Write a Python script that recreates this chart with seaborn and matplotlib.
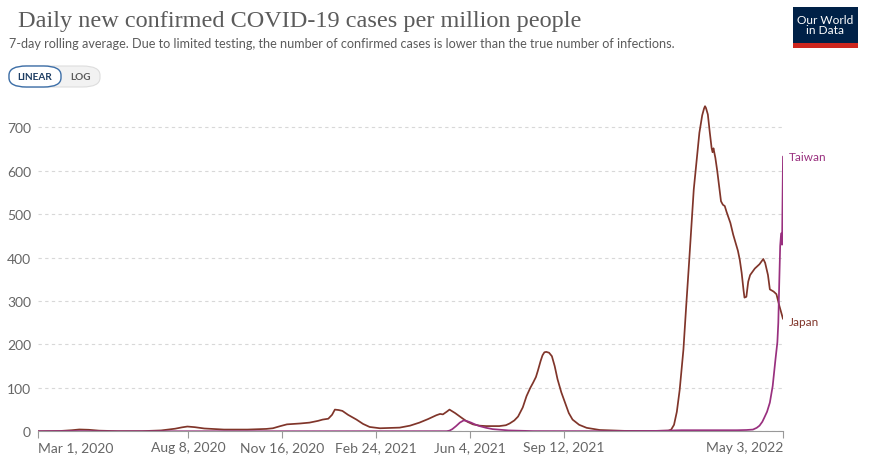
import pandas as pd
import matplotlib.pyplot as plt
from matplotlib.patches import FancyBboxPatch, Rectangle
import seaborn as sns

# values (7-day avg, cases per million)
japan_dates = [
    "2020-03-01", "2020-03-25", "2020-04-06", "2020-04-14", "2020-04-24", "2020-05-05",
    "2020-05-25", "2020-06-20", "2020-07-10", "2020-07-25", "2020-08-01", "2020-08-07",
    "2020-08-15", "2020-08-25", "2020-09-15", "2020-10-10", "2020-10-30", "2020-11-06",
    "2020-11-14", "2020-11-21", "2020-12-05", "2020-12-15", "2020-12-24", "2020-12-29",
    "2021-01-04", "2021-01-08", "2021-01-11", "2021-01-15", "2021-01-19", "2021-01-25",
    "2021-02-03", "2021-02-10", "2021-02-17", "2021-02-28", "2021-03-21", "2021-04-01",
    "2021-04-11", "2021-04-20", "2021-04-29", "2021-05-03", "2021-05-06", "2021-05-10",
    "2021-05-13", "2021-05-19", "2021-05-26", "2021-06-01", "2021-06-07", "2021-06-14",
    "2021-06-21", "2021-07-05", "2021-07-12", "2021-07-16", "2021-07-21", "2021-07-25",
    "2021-07-30", "2021-08-03", "2021-08-07", "2021-08-10", "2021-08-13", "2021-08-15",
    "2021-08-18", "2021-08-20", "2021-08-22", "2021-08-24", "2021-08-27", "2021-08-30",
    "2021-09-02", "2021-09-05", "2021-09-09", "2021-09-13", "2021-09-17", "2021-09-21",
    "2021-09-28", "2021-10-06", "2021-10-20", "2021-11-15", "2021-12-15", "2022-01-01",
    "2022-01-04", "2022-01-07", "2022-01-10", "2022-01-13", "2022-01-17", "2022-01-20",
    "2022-01-23", "2022-01-28", "2022-02-03", "2022-02-06", "2022-02-08", "2022-02-09",
    "2022-02-10", "2022-02-12", "2022-02-14", "2022-02-16", "2022-02-17", "2022-02-18",
    "2022-02-20", "2022-02-22", "2022-02-26", "2022-02-28", "2022-03-02", "2022-03-04",
    "2022-03-08", "2022-03-11", "2022-03-16", "2022-03-18", "2022-03-20", "2022-03-22",
    "2022-03-23", "2022-03-25", "2022-03-27", "2022-03-29", "2022-04-03", "2022-04-08",
    "2022-04-12", "2022-04-14", "2022-04-17", "2022-04-19", "2022-04-23", "2022-04-26",
    "2022-04-29", "2022-05-03",
]
japan_cases = [
    0.1, 0.8, 2.5, 4.2, 3.5, 1.5,
    0.3, 0.4, 2.0, 6.0, 9.0, 11.0,
    9.5, 6.5, 4.0, 4.0, 5.5, 7,
    12, 16, 18, 20, 24, 27,
    29, 38, 50, 49, 47, 38,
    27, 17, 10, 7, 8.5, 13,
    20, 28, 37, 40, 39, 45,
    50, 42, 31, 22, 16, 13,
    12, 12, 14, 18, 25, 34,
    55, 81, 100, 112, 125, 139,
    162, 175, 182, 183, 181, 173,
    150, 120, 90, 66, 42, 27,
    15, 8, 3, 1, 0.8, 1.5,
    4, 15, 45, 95, 188, 290,
    388, 557, 688, 728, 744, 749,
    745, 730, 690, 653, 643, 652,
    630, 600, 530, 522, 519, 505,
    480, 453, 416, 395, 365, 325,
    308, 310, 345, 360, 375, 385,
    397, 388, 360, 327, 322, 316,
    290, 259,
]

taiwan_dates = [
    "2020-03-01", "2020-04-10", "2020-05-10", "2020-12-31", "2021-05-10", "2021-05-13",
    "2021-05-16", "2021-05-20", "2021-05-24", "2021-05-28", "2021-05-31", "2021-06-05",
    "2021-06-09", "2021-06-14", "2021-06-21", "2021-06-28", "2021-07-15", "2021-08-10",
    "2021-11-01", "2021-12-20", "2022-01-15", "2022-02-15", "2022-03-15", "2022-03-25",
    "2022-04-01", "2022-04-05", "2022-04-08", "2022-04-11", "2022-04-13", "2022-04-16",
    "2022-04-19", "2022-04-22", "2022-04-25", "2022-04-27", "2022-04-28", "2022-04-29",
    "2022-04-30", "2022-05-01", "2022-05-02", "2022-05-03",
]
taiwan_cases = [
    0.2, 0.6, 0.1, 0.2, 0.3, 1.5,
    5, 12, 20, 25, 24, 20,
    16, 12, 8, 5, 2, 0.5,
    0.3, 1, 2.5, 2.5, 2.5, 3,
    4, 8, 13, 22, 31, 45,
    66, 104, 166, 205, 250, 342,
    427, 456, 430, 633,
]

tick_dates = ["2020-03-01", "2020-08-08", "2020-11-16", "2021-02-24",
              "2021-06-04", "2021-09-12", "2022-05-03"]
tick_labels = ["Mar 1, 2020", "Aug 8, 2020", "Nov 16, 2020", "Feb 24, 2021",
               "Jun 4, 2021", "Sep 12, 2021", "May 3, 2022"]
y_ticks = [0, 100, 200, 300, 400, 500, 600, 700]

colors = {"Japan": "#80352a", "Taiwan": "#99307f"}

df = pd.concat([
    pd.DataFrame({"date": pd.to_datetime(japan_dates), "cases": japan_cases, "country": "Japan"}),
    pd.DataFrame({"date": pd.to_datetime(taiwan_dates), "cases": taiwan_cases, "country": "Taiwan"}),
], ignore_index=True)

sns.set_theme(style="white")
plt.rcParams["font.family"] = ["Lato", "DejaVu Sans"]

fig = plt.figure(figsize=(8.7, 4.6), dpi=100)
ax = fig.add_axes([38 / 870, 1 - 432.3 / 460, 745 / 870, (432.3 - 104.6) / 460])

sns.lineplot(data=df, x="date", y="cases", hue="country", hue_order=["Japan", "Taiwan"],
             palette=colors, estimator=None, legend=False, linewidth=1.25, ax=ax)
for line in ax.get_lines():
    line.set_solid_joinstyle("round")

ax.set_xlim(pd.Timestamp("2020-03-01"), pd.Timestamp("2022-05-03"))
ax.set_ylim(0, 755)
ax.set_xlabel("")
ax.set_ylabel("")

ax.set_yticks(y_ticks)
ax.set_yticklabels([str(v) for v in y_ticks])
ax.yaxis.grid(True, linestyle=(0, (3, 3)), color="#d8d8d8", linewidth=0.8)
ax.set_axisbelow(True)
ax.tick_params(axis="y", length=0, pad=5, labelsize=10, labelcolor="#666666")

ax.set_xticks(pd.to_datetime(tick_dates))
ax.set_xticklabels(tick_labels)
labels = ax.get_xticklabels()
labels[0].set_horizontalalignment("left")
labels[-1].set_horizontalalignment("right")
ax.tick_params(axis="x", length=5, width=0.8, color="#999999", pad=2,
               labelsize=10, labelcolor="#666666", bottom=True)

for s in ["top", "right", "left"]:
    ax.spines[s].set_visible(False)
ax.spines["bottom"].set_color("#999999")
ax.spines["bottom"].set_linewidth(0.8)

# end-of-line labels
last = pd.Timestamp("2022-05-03")
ax.annotate("Taiwan", (last, taiwan_cases[-1]), xytext=(4, 0), textcoords="offset points",
            va="center", ha="left", fontsize=8.5, color=colors["Taiwan"], annotation_clip=False)
ax.annotate("Japan", (last, japan_cases[-1]), xytext=(4, -2), textcoords="offset points",
            va="center", ha="left", fontsize=8.5, color=colors["Japan"], annotation_clip=False)

# header
fig.text(18 / 870, 1 - 21 / 460, "Daily new confirmed COVID-19 cases per million people",
         family=["Liberation Serif", "DejaVu Serif"], fontsize=17.5, color="#5b5b5b", va="center")
fig.text(9 / 870, 1 - 44 / 460,
         "7-day rolling average. Due to limited testing, the number of confirmed cases is lower than the true number of infections.",
         fontsize=9.1, color="#5b5b5b", va="center")

# LINEAR / LOG toggle
fig.patches.append(FancyBboxPatch((9 / 870, 1 - 88 / 460), 91 / 870, 21 / 460,
                                  boxstyle="round,pad=0,rounding_size=0.02",
                                  transform=fig.transFigure, facecolor="#f2f2f2",
                                  edgecolor="#dddddd", linewidth=0.8))
fig.patches.append(FancyBboxPatch((9 / 870, 1 - 88 / 460), 52 / 870, 21 / 460,
                                  boxstyle="round,pad=0,rounding_size=0.02",
                                  transform=fig.transFigure, facecolor="white",
                                  edgecolor="#3d6fa8", linewidth=1.0))
fig.text(35 / 870, 1 - 77.5 / 460, "LINEAR", fontsize=7.2, fontweight="bold",
         color="#1d3d63", ha="center", va="center")
fig.text(80.5 / 870, 1 - 77.5 / 460, "LOG", fontsize=7.2, fontweight="bold",
         color="#5b5b5b", ha="center", va="center")

# logo
fig.patches.append(Rectangle((793 / 870, 1 - 49 / 460), 65 / 870, 41 / 460,
                             transform=fig.transFigure, facecolor="#002147", edgecolor="none"))
fig.patches.append(Rectangle((793 / 870, 1 - 49 / 460), 65 / 870, 5 / 460,
                             transform=fig.transFigure, facecolor="#ce261e", edgecolor="none"))
fig.text(825.5 / 870, 1 - 25.5 / 460, "Our World\nin Data", fontsize=8.6, color="white",
         ha="center", va="center", linespacing=1.0)

fig.savefig("out.png", dpi=100)
